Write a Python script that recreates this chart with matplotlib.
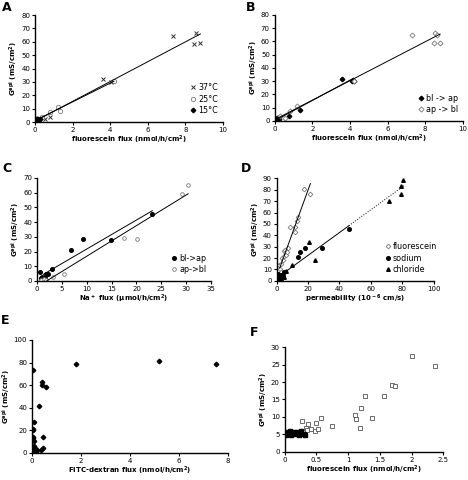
import numpy as np
import matplotlib
matplotlib.use("Agg")
import matplotlib.pyplot as plt

# ---- A: temperature ----
t37_x = [0.55, 0.8, 3.6, 4.05, 7.35, 8.45, 8.55, 8.8]
t37_y = [2.0, 4.0, 32.0, 30.0, 64.5, 58.5, 66.5, 59.0]
t25_x = [0.05, 0.15, 0.35, 0.8, 1.2, 1.35, 4.2]
t25_y = [1.0, 2.0, 3.5, 7.5, 11.0, 8.5, 30.5]
t15_x = [0.02, 0.05, 0.08, 0.1, 0.12, 0.15, 0.18, 0.2, 0.25, 0.05, 0.1]
t15_y = [0.5, 1.0, 2.0, 1.5, 2.5, 1.0, 2.0, 1.5, 2.0, 2.5, 0.8]

# ---- B: direction ----
b_blap_x = [0.05, 0.08, 0.1, 0.12, 0.15, 0.18, 0.2, 0.25, 0.75, 1.35, 3.6, 4.1, 4.2]
b_blap_y = [0.5, 1.0, 2.0, 1.5, 2.5, 1.0, 2.0, 1.5, 4.0, 8.5, 32.0, 30.5, 30.5]
b_apbl_x = [0.3, 0.55, 0.8, 1.2, 4.2, 7.3, 8.45, 8.55, 8.65, 8.8]
b_apbl_y = [3.5, 2.0, 7.5, 11.0, 30.5, 64.5, 58.5, 66.5, 65.0, 59.0]

# ---- C: Na+ flux ----
c_blap_x = [0.6, 0.8, 1.0, 1.3, 1.6, 1.8, 2.2, 3.0, 6.9, 9.3, 14.8, 23.2]
c_blap_y = [6.0, 2.0, 2.5, 2.0, 2.0, 5.0, 4.5, 8.0, 21.0, 28.5, 28.0, 45.5]
c_apbl_x = [0.9, 1.4, 1.9, 3.2, 5.4, 17.4, 20.2, 29.2, 30.4]
c_apbl_y = [1.0, 1.5, 1.0, 3.0, 4.5, 29.0, 28.5, 59.0, 65.5]

# ---- D: permeability ----
d_fl_x = [0.5, 1.0, 1.5, 2.0, 2.5, 3.0, 3.5, 4.0, 4.5, 5.0, 5.5, 6.0, 6.5, 7.0,
          8.5, 11.5, 12.0, 13.0, 13.5, 17.5, 21.5]
d_fl_y = [2, 5, 14, 10, 8, 15, 20, 18, 22, 26, 27, 23, 25, 29,
          47, 43, 47, 53, 56, 81, 76.5]
d_na_x = [0.5, 1.0, 1.5, 2.0, 2.5, 3.0, 3.5, 4.0, 5.0, 13.5, 15.0, 18.0, 29.0, 46.0]
d_na_y = [1, 6, 3, 4, 2, 5, 3, 4, 8, 21, 25, 28.5, 28.5, 45.5]
d_cl_x = [1, 2, 3, 5, 6, 10, 20.5, 24.5, 71.5, 79, 79, 80.5]
d_cl_y = [1, 2, 3, 3, 9, 14, 34, 18.5, 70, 83, 76.5, 89]

# ---- E: FITC-dextran ----
e_x = [0.02, 0.02, 0.03, 0.05, 0.05, 0.1, 0.1, 0.05, 0.1, 0.05, 0.15, 0.2, 0.1,
       0.35, 0.3, 0.4, 0.42, 0.57, 0.45, 0.45, 1.8, 5.2, 7.5, 0.08, 0.12]
e_y = [73.5, 13, 20, 21, 14, 27.5, 10, 5, 3, 2, 1, 2, 1,
       2.5, 41.5, 63, 60.5, 58.5, 13.5, 4, 78.5, 81, 79, 6, 4]

# ---- F ----
f_open_x = [0.28, 0.33, 0.35, 0.37, 0.42, 0.48, 0.5, 0.52, 0.58, 0.74, 1.11, 1.12,
            1.19, 1.21, 1.27, 1.37, 1.56, 1.69, 1.74, 2.0, 2.37]
f_open_y = [8.7, 6.7, 6.3, 7.9, 6.5, 5.9, 8.2, 6.4, 9.6, 7.3, 10.4, 9.3,
            6.7, 12.6, 16.0, 9.7, 16.1, 19.3, 18.9, 27.6, 24.6]
f_fill_x = [0.02, 0.04, 0.06, 0.08, 0.1, 0.12, 0.14, 0.16, 0.18, 0.2, 0.22, 0.24,
            0.26, 0.3, 0.32]
f_fill_y = [4.7, 5.6, 5.2, 5.8, 4.9, 5.5, 5.7, 5.0, 5.4, 5.6, 4.8, 5.3, 5.9, 5.0, 4.9]

FS = 5.0
YLAB = r'G$^{\bf epi}$ (mS/cm$^{\bf 2}$)'
MS = 2.6


def style(ax, xlim, xt, ylim, yt, xlabel):
    ax.set_xlim(xlim)
    ax.set_ylim(ylim)
    ax.set_xticks(xt)
    ax.set_yticks(yt)
    for s in ['top', 'right']:
        ax.spines[s].set_visible(False)
    ax.spines['left'].set_linewidth(1.0)
    ax.spines['bottom'].set_linewidth(1.0)
    ax.tick_params(labelsize=FS, length=2.5, width=0.8, pad=1.0)
    ax.set_xlabel(xlabel, fontsize=FS, fontweight='bold', labelpad=0.5)
    ax.set_ylabel(YLAB, fontsize=FS, fontweight='bold', labelpad=0.5)


def fitline(ax, x, y, x0, x1, ls='-'):
    k, b = np.polyfit(x, y, 1)
    xs = np.array([x0, x1])
    ax.plot(xs, k * xs + b, color='black', lw=0.7, ls=ls)


def leg(ax, loc, anchor):
    ax.legend(loc=loc, bbox_to_anchor=anchor, frameon=False, fontsize=FS + 0.8,
              handletextpad=0.1, handlelength=1.0, labelspacing=0.3,
              borderaxespad=0.2)


fig = plt.figure(figsize=(4.68, 4.80), dpi=100)

# A
ax = fig.add_axes([0.0748, 0.7458, 0.4017, 0.2229])
ax.plot(t37_x, t37_y, 'x', color='#333333', ms=MS, mew=0.7, label='37°C')
ax.plot(t25_x, t25_y, 'o', mfc='white', mec='#777777', ms=MS + 0.5, mew=0.6, label='25°C')
ax.plot(t15_x, t15_y, 'D', color='black', ms=MS - 0.3, label='15°C')
fitline(ax, t37_x + t15_x, t37_y + t15_y, 0, max(t37_x))
fitline(ax, t25_x, t25_y, 0, max(t25_x))
style(ax, (0, 10), range(0, 11, 2), (0, 80), range(0, 81, 10),
      r'fluorescein flux (nmol/h/cm$^{\bf 2}$)')
leg(ax, 'lower right', (1.0, 0.02))

# B
ax = fig.add_axes([0.587, 0.748, 0.4017, 0.221])
ax.plot(b_blap_x, b_blap_y, 'D', color='black', ms=MS - 0.3, label='bl -> ap')
ax.plot(b_apbl_x, b_apbl_y, 'D', mfc='white', mec='#777777', ms=MS, mew=0.6, label='ap -> bl')
fitline(ax, b_blap_x, b_blap_y, 0, max(b_blap_x))
fitline(ax, b_apbl_x, b_apbl_y, 0, max(b_apbl_x))
style(ax, (0, 10), range(0, 11, 2), (0, 80), range(0, 81, 10),
      r'fluorescein flux (nmol/h/cm$^{\bf 2}$)')
leg(ax, 'lower right', (1.0, 0.02))

# C
ax = fig.add_axes([0.079, 0.4146, 0.372, 0.2146])
ax.plot(c_blap_x, c_blap_y, 'o', color='black', ms=MS, label='bl->ap')
ax.plot(c_apbl_x, c_apbl_y, 'o', mfc='white', mec='#777777', ms=MS, mew=0.6, label='ap->bl')
fitline(ax, c_blap_x, c_blap_y, 1.3, max(c_blap_x))
fitline(ax, c_apbl_x, c_apbl_y, 2.0, max(c_apbl_x))
style(ax, (0, 35), range(0, 36, 5), (0, 70), range(0, 71, 10),
      r'Na$^{\bf +}$ flux (µmol/h/cm$^{\bf 2}$)')
leg(ax, 'lower right', (1.0, 0.02))

# D
ax = fig.add_axes([0.591, 0.415, 0.336, 0.2133])
ax.plot(d_fl_x, d_fl_y, 'D', mfc='white', mec='#777777', ms=MS - 0.2, mew=0.6, label='fluorescein')
ax.plot(d_na_x, d_na_y, 'o', color='black', ms=MS, label='sodium')
ax.plot(d_cl_x, d_cl_y, '^', color='black', ms=MS, label='chloride')
fitline(ax, d_fl_x, d_fl_y, 2.0, max(d_fl_x))
fitline(ax, d_na_x + d_cl_x, d_na_y + d_cl_y, 3.0, max(d_na_x))
fitline(ax, d_na_x + d_cl_x, d_na_y + d_cl_y, max(d_na_x), max(d_cl_x) + 1, ls=':')
style(ax, (0, 100), range(0, 101, 20), (0, 90), range(0, 91, 10),
      r'permeability (10$^{\bf -6}$ cm/s)')
leg(ax, 'lower right', (1.05, 0.02))

# E
ax = fig.add_axes([0.0684, 0.0569, 0.4188, 0.2348])
ax.plot(e_x, e_y, 'D', color='black', ms=MS - 0.3)
style(ax, (0, 8), range(0, 9, 2), (0, 100), range(0, 101, 20),
      r'FITC-dextran flux (nmol/h/cm$^{\bf 2}$)')

# F
ax = fig.add_axes([0.6083, 0.059, 0.339, 0.2175])
ax.plot(f_open_x, f_open_y, 's', mfc='white', mec='#555555', ms=MS + 0.3, mew=0.6)
ax.plot(f_fill_x, f_fill_y, 's', color='black', ms=MS - 0.3)
style(ax, (0, 2.5), [0, 0.5, 1, 1.5, 2, 2.5], (0, 30), range(0, 31, 5),
      r'fluorescein flux (nmol/h/cm$^{\bf 2}$)')
ax.set_xticklabels(['0', '0.5', '1', '1.5', '2', '2.5'])

# panel letters
for lab, x, y in [('A', 2, 1), ('B', 246, 1), ('C', 2, 162), ('D', 241, 162),
                  ('E', 1, 314), ('F', 250, 326)]:
    fig.text(x / 468, 1 - y / 480, lab, fontsize=9, fontweight='bold',
             ha='left', va='top')

fig.savefig('out.png', dpi=100)
